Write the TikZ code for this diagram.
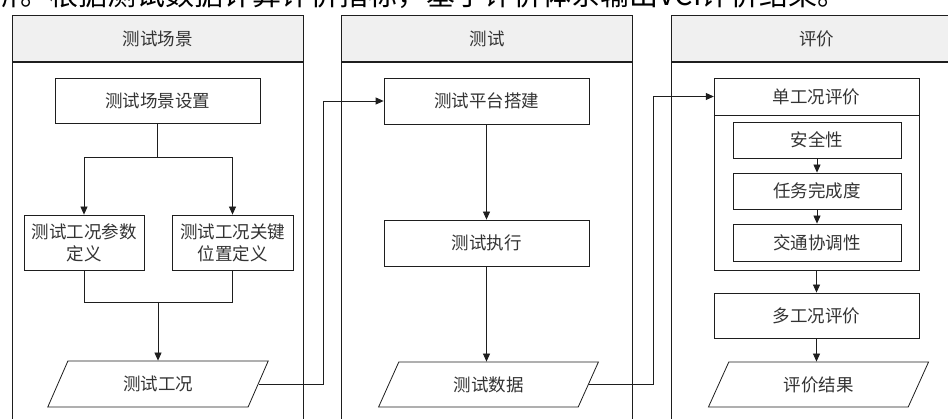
\documentclass[tikz,border=0pt]{standalone}
\usepackage{fontspec}
\setmainfont{Noto Sans CJK SC}
\usetikzlibrary{shapes.geometric,arrows.meta}
\definecolor{ln}{HTML}{1E1E1E}
\definecolor{tx}{HTML}{333333}
\definecolor{hd}{HTML}{F0F0F0}
\begin{document}
\begin{tikzpicture}[x=1pt,y=-1pt,
  txt/.style={text=tx, font=\fontsize{17.5}{22}\selectfont, inner sep=0pt, align=center},
  box/.style={txt, draw=ln, line width=0.8pt, fill=white},
  para/.style={box, trapezium, trapezium left angle=64, trapezium right angle=116, trapezium stretches=true},
  conn/.style={draw=ln, line width=0.8pt},
  arr/.style={conn, -{Triangle[length=8pt,width=7pt]}},
  header/.style={txt, draw=ln, line width=1pt, fill=hd, minimum width=291pt, minimum height=46pt},
  panel/.style={draw=ln, line width=1pt, fill=white, minimum width=291pt, minimum height=380pt, inner sep=0pt, anchor=north}]
\clip (0,0) rectangle (948,419);
\fill[white] (0,0) rectangle (948,419);
% cut-off line of text above
\node[anchor=base west, inner sep=0pt, text=black, font=\fontsize{29}{32}\selectfont] (toptext) at (-9,6) {析。根据测试数据计算评价指标，基于评价体系输出VCI评价结果。};
% panels
\node[header] (h1) at (157.5,39) {测试场景};
\node[panel] (pb1) at (h1.south) {};
\node[header] (h2) at (487,39) {测试};
\node[panel] (pb2) at (h2.south) {};
\node[header] (h3) at (816.5,39) {评价};
\node[panel] (pb3) at (h3.south) {};
% left column
\node[box, minimum width=205pt, minimum height=45pt] (a1) at (157.5,100.5) {测试场景设置};
\node[box, minimum width=120pt, minimum height=55pt] (a2) at (84,242.5) {测试工况参数\\定义};
\node[box, minimum width=121pt, minimum height=55pt] (a3) at (232.5,242.5) {测试工况关键\\位置定义};
\node[para, minimum width=222pt, minimum height=46pt] (p1) at (158,384) {测试工况};
\draw[arr] (a1.south) -- (a1.south |- 0,157) -| (a2.north);
\draw[arr] (a1.south) -- (a1.south |- 0,157) -| (a3.north);
\draw[conn] (a2.south) -- (a2.south |- 0,302) -| (a3.south);
\draw[arr] (p1.north |- 0,302) -- (p1.north);
% middle column
\node[box, minimum width=205pt, minimum height=46pt] (b1) at (486.5,101) {测试平台搭建};
\node[box, minimum width=205pt, minimum height=46pt] (b2) at (486.5,243) {测试执行};
\node[para, minimum width=221pt, minimum height=45pt] (p2) at (488.5,384.5) {测试数据};
\draw[arr] (b1.south) -- (b1.south |- b2.north);
\draw[arr] (b2.south) -- (b2.south |- p2.north);
\draw[arr] (p1.east) -- ++(65,0) |- (b1.west);
% right column
\node[box, minimum width=205pt, minimum height=192pt] (cont) at (816.5,174) {};
\node[txt, minimum width=205pt, minimum height=37pt] (ctitle) at (816.5,96.5) {单工况评价};
\draw[conn] (ctitle.south west) -- (ctitle.south east);
\node[box, minimum width=168pt, minimum height=36pt] (c1) at (817,140) {安全性};
\node[box, minimum width=168pt, minimum height=36pt] (c2) at (817,191) {任务完成度};
\node[box, minimum width=168pt, minimum height=37pt] (c3) at (817,242.5) {交通协调性};
\node[box, minimum width=205pt, minimum height=45pt] (c4) at (816.5,315.5) {多工况评价};
\node[para, minimum width=221pt, minimum height=45pt] (p3) at (818.5,384.5) {评价结果};
\draw[arr] (c1.south) -- (c2.north);
\draw[arr] (c2.south) -- (c3.north);
\draw[arr] (cont.south) -- (c4.north);
\draw[arr] (c4.south) -- (c4.south |- p3.north);
\draw[arr] (p2.east) -- ++(65,0) |- (ctitle.west);
\end{tikzpicture}
\end{document}
